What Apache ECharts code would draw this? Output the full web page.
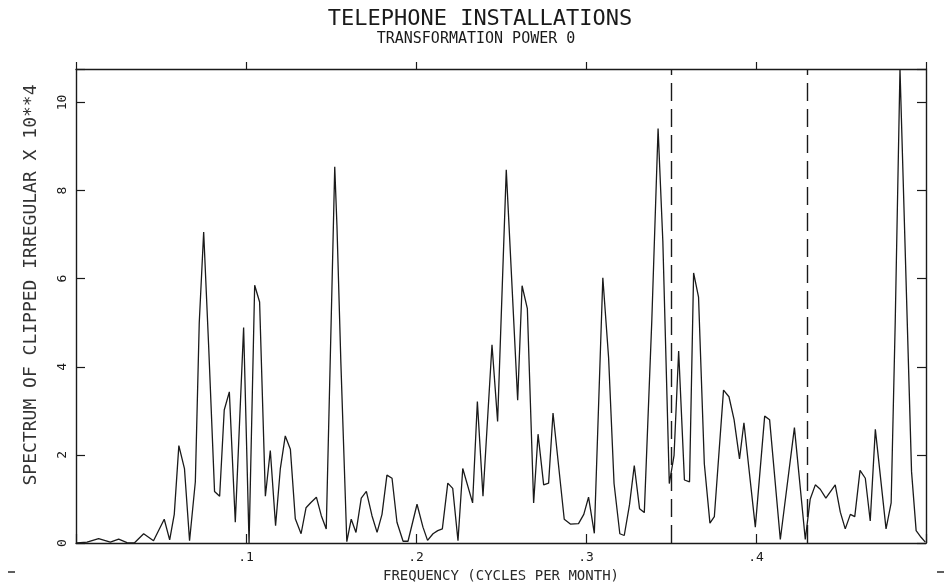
<!DOCTYPE html>
<html>
<head>
<meta charset="utf-8">
<title>Telephone installations</title>
<script src="https://cdn.jsdelivr.net/npm/echarts@6/dist/echarts.min.js"></script>
<style>
  html, body { margin: 0; padding: 0; background: #ffffff; }
  #chart { width: 952px; height: 588px; }
</style>
</head>
<body>
<div id="chart"></div>
<script>
// Spectrum of the clipped irregular component (x 10**4), by frequency in cycles per month
const freq = [
  0.0006, 0.0065, 0.0133, 0.0202, 0.0251, 0.0300, 0.0343, 0.0398, 0.0456, 0.0519,
  0.0551, 0.0578, 0.0605, 0.0638, 0.0668, 0.0702, 0.0725, 0.0751, 0.0780, 0.0815,
  0.0845, 0.0872, 0.0902, 0.0937, 0.0986, 0.1018, 0.1051, 0.1080, 0.1114, 0.1143,
  0.1174, 0.1202, 0.1231, 0.1261, 0.1290, 0.1324, 0.1353, 0.1382, 0.1414, 0.1443,
  0.1472, 0.1505, 0.1522, 0.1535, 0.1558, 0.1593, 0.1619, 0.1647, 0.1678, 0.1708,
  0.1741, 0.1771, 0.1800, 0.1829, 0.1859, 0.1888, 0.1924, 0.1953, 0.2006, 0.2041,
  0.2068, 0.2100, 0.2128, 0.2155, 0.2187, 0.2216, 0.2247, 0.2275, 0.2333, 0.2361,
  0.2394, 0.2447, 0.2480, 0.2531, 0.2598, 0.2624, 0.2655, 0.2692, 0.2718, 0.2751,
  0.2780, 0.2806, 0.2872, 0.2908, 0.2956, 0.2987, 0.3015, 0.3049, 0.3099, 0.3133,
  0.3165, 0.3199, 0.3225, 0.3256, 0.3284, 0.3315, 0.3343, 0.3387, 0.3424, 0.3452,
  0.3490, 0.3518, 0.3545, 0.3579, 0.3609, 0.3633, 0.3662, 0.3696, 0.3729, 0.3755,
  0.3809, 0.3841, 0.3871, 0.3903, 0.3929, 0.3996, 0.4051, 0.4080, 0.4143, 0.4226,
  0.4290, 0.4319, 0.4349, 0.4378, 0.4411, 0.4466, 0.4496, 0.4525, 0.4555, 0.4581,
  0.4612, 0.4643, 0.4672, 0.4702, 0.4765, 0.4795, 0.4819, 0.4847, 0.4915, 0.4942,
  0.4971, 0.4996
];

const spectrum = [
  0.00, 0.02, 0.10, 0.02, 0.09, 0.01, 0.00, 0.21, 0.05, 0.54,
  0.07, 0.65, 2.21, 1.69, 0.05, 1.39, 5.00, 7.06, 4.50, 1.17,
  1.06, 3.02, 3.43, 0.47, 4.89, 0.00, 5.85, 5.47, 1.06, 2.10,
  0.39, 1.69, 2.43, 2.13, 0.55, 0.21, 0.80, 0.92, 1.04, 0.62,
  0.32, 5.70, 8.54, 7.20, 4.10, 0.03, 0.54, 0.24, 1.02, 1.17,
  0.62, 0.24, 0.65, 1.54, 1.47, 0.47, 0.04, 0.04, 0.88, 0.36,
  0.06, 0.21, 0.28, 0.32, 1.36, 1.24, 0.05, 1.69, 0.91, 3.21,
  1.06, 4.50, 2.76, 8.47, 3.24, 5.84, 5.32, 0.91, 2.47, 1.32,
  1.36, 2.95, 0.54, 0.43, 0.44, 0.65, 1.04, 0.22, 6.02, 4.20,
  1.35, 0.21, 0.17, 0.87, 1.76, 0.78, 0.69, 5.04, 9.41, 6.85,
  1.35, 1.99, 4.36, 1.43, 1.39, 6.13, 5.58, 1.80, 0.45, 0.60,
  3.47, 3.32, 2.80, 1.91, 2.73, 0.36, 2.88, 2.80, 0.08, 2.62,
  0.08, 1.00, 1.32, 1.22, 1.02, 1.32, 0.70, 0.32, 0.65, 0.60,
  1.65, 1.47, 0.50, 2.58, 0.32, 0.91, 5.02, 10.76, 1.62, 0.28,
  0.13, 0.02
];

// Trading-day frequencies, marked with dashed verticals
const tradingDayFreqs = [0.348, 0.432];

// Axis tick labels
const xTickLabels = ['', '.1', '.2', '.3', '.4', ''];
const yTickLabels = ['0', '2', '4', '6', '8', '10'];

const FONT = 'DejaVu Sans Mono';
const INK = '#1a1a1a';

const points = freq.map((f, i) => [f, spectrum[i]]);

const chart = echarts.init(document.getElementById('chart'), null, { renderer: 'canvas' });

const frameLine = { show: true, onZero: false, lineStyle: { color: INK, width: 1.4 } };

chart.setOption({
  animation: false,
  backgroundColor: '#ffffff',
  grid: { left: 76, right: 26, top: 69, bottom: 35, containLabel: false },
  xAxis: [
    {
      type: 'value', position: 'bottom', min: 0, max: 0.5, interval: 0.1,
      axisLine: frameLine,
      axisTick: { show: true, inside: true, length: 9, lineStyle: { color: INK, width: 1.2 } },
      splitLine: { show: false },
      axisLabel: {
        show: true, margin: 8, color: INK, fontFamily: FONT, fontSize: 13,
        formatter: v => xTickLabels[Math.round(v * 10)] || ''
      },
      name: 'FREQUENCY (CYCLES PER MONTH)',
      nameLocation: 'middle', nameGap: 26,
      nameTextStyle: { color: '#2a2a2a', fontFamily: FONT, fontSize: 14 }
    },
    {
      type: 'value', position: 'top', min: 0, max: 0.5, interval: 0.1,
      axisLine: frameLine,
      axisTick: { show: true, inside: false, length: 7, lineStyle: { color: INK, width: 1.2 } },
      splitLine: { show: false },
      axisLabel: { show: false }
    }
  ],
  yAxis: [
    {
      type: 'value', position: 'left', min: 0, max: 10.76, interval: 2,
      axisLine: frameLine,
      axisTick: { show: true, inside: true, length: 9, lineStyle: { color: INK, width: 1.2 } },
      splitLine: { show: false },
      axisLabel: {
        show: true, rotate: 90, margin: 7, color: INK, fontFamily: FONT, fontSize: 13,
        formatter: v => {
          const k = Math.round(v / 2);
          return Math.abs(v - k * 2) < 1e-6 ? (yTickLabels[k] || '') : '';
        }
      }
    },
    {
      type: 'value', position: 'right', min: 0, max: 10.76, interval: 2,
      axisLine: frameLine,
      axisTick: { show: true, inside: true, length: 9, lineStyle: { color: INK, width: 1.2 } },
      splitLine: { show: false },
      axisLabel: { show: false }
    }
  ],
  graphic: [
    {
      type: 'text', x: 480, y: 19,
      style: {
        text: 'TELEPHONE INSTALLATIONS', fill: INK,
        font: '22px "' + FONT + '"', textAlign: 'center', textVerticalAlign: 'middle'
      }
    },
    {
      type: 'text', x: 476, y: 39,
      style: {
        text: 'TRANSFORMATION POWER 0', fill: INK,
        font: '15px "' + FONT + '"', textAlign: 'center', textVerticalAlign: 'middle'
      }
    },
    {
      type: 'text', x: 31, y: 285, rotation: Math.PI / 2,
      style: {
        text: 'SPECTRUM OF CLIPPED IRREGULAR X 10**4', fill: '#333333',
        font: '18px "' + FONT + '"', textAlign: 'center', textVerticalAlign: 'middle'
      }
    },
    { type: 'line', shape: { x1: 8, y1: 572, x2: 15, y2: 572 }, style: { stroke: INK, lineWidth: 1.4 } },
    { type: 'line', shape: { x1: 937, y1: 572, x2: 944, y2: 572 }, style: { stroke: INK, lineWidth: 1.4 } }
  ],
  series: [
    {
      type: 'line',
      xAxisIndex: 0, yAxisIndex: 0,
      data: points,
      showSymbol: false,
      symbol: 'none',
      lineStyle: { color: INK, width: 1.3 },
      silent: true,
      markLine: {
        silent: true,
        symbol: ['none', 'none'],
        label: { show: false },
        lineStyle: { color: INK, width: 1.4, type: [18, 8] },
        data: tradingDayFreqs.map(f => ({ xAxis: f }))
      }
    }
  ]
});
</script>
</body>
</html>
